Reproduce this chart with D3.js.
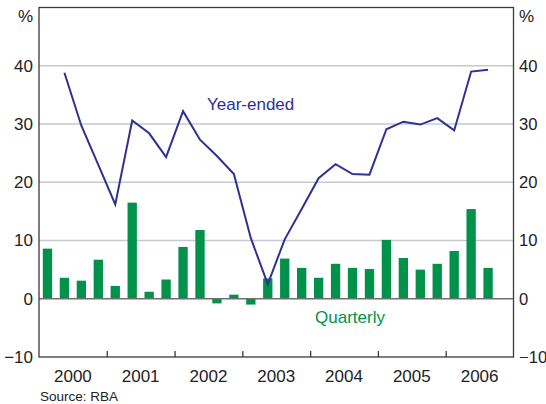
<!DOCTYPE html>
<html><head><meta charset="utf-8">
<script src="https://cdn.jsdelivr.net/npm/d3@7"></script>
<style>
html,body{margin:0;padding:0;background:#fff;}
svg{display:block;font-family:Arial,"Liberation Sans",sans-serif;}
</style></head>
<body><svg id="c" width="546" height="404"></svg>
<script>
// Quarters 2000Q1 .. 2006Q3
const quarters = d3.range(27).map(i => `${2000 + Math.floor(i/4)}Q${i%4+1}`);
const quarterly = [8.6, 3.6, 3.1, 6.7, 2.2, 16.5, 1.2, 3.3, 8.9, 11.8, -0.8, 0.7, -1.0, 3.5, 6.9, 5.3, 3.6, 6.0, 5.3, 5.1, 10.1, 7.0, 5.0, 6.0, 8.2, 15.4, 5.3];
const yearEnded = [null, 38.8, 29.7, 23.0, 16.2, 30.6, 28.4, 24.3, 32.2, 27.3, 24.5, 21.4, 10.4, 2.5, 10.2, 15.4, 20.7, 23.1, 21.4, 21.3, 29.1, 30.4, 29.9, 31.0, 28.9, 39.0, 39.3];
const years = [2000, 2001, 2002, 2003, 2004, 2005, 2006];
const yTicks = [-10, 0, 10, 20, 30, 40];

const svg = d3.select("#c");
const L = 39, R = 513.5, T = 7.5, B = 357;
const x = d3.scaleLinear().domain([2000, 2007]).range([L, R]);
const y = d3.scaleLinear().domain([-10, 50]).range([B, T]);
const qPos = i => 2000 + (i + 0.5) / 4;
const qW = x(2000.25) - x(2000);

// gridlines
svg.append("g").selectAll("line").data([10, 20, 30, 40]).join("line")
  .attr("x1", L).attr("x2", R).attr("y1", d => y(d)).attr("y2", d => y(d))
  .attr("stroke", "#c5c9d1").attr("stroke-width", 1.3);

// bars
svg.append("g").selectAll("rect").data(quarterly).join("rect")
  .attr("x", (d, i) => x(qPos(i)) - qW * 0.275)
  .attr("width", qW * 0.55)
  .attr("y", d => y(Math.max(0, d)))
  .attr("height", d => Math.abs(y(d) - y(0)))
  .attr("fill", "#00924a");

// zero line
svg.append("line").attr("x1", L).attr("x2", R).attr("y1", y(0)).attr("y2", y(0))
  .attr("stroke", "#6f6f6f").attr("stroke-width", 1.6);

// year-ended line
const line = d3.line().defined(d => d != null)
  .x((d, i) => x(qPos(i))).y(d => y(d));
svg.append("path").datum(yearEnded).attr("d", line)
  .attr("fill", "none").attr("stroke", "#2e3192").attr("stroke-width", 2).attr("stroke-linejoin", "miter");

// frame
svg.append("rect").attr("x", L).attr("y", T).attr("width", R - L).attr("height", B - T)
  .attr("fill", "none").attr("stroke", "#3a3a3a").attr("stroke-width", 1.3);

// x axis (ticks at year boundaries pointing inward, labels mid-year)
const xAxis = d3.axisBottom(x).tickValues(d3.range(2001, 2007)).tickSize(-6).tickFormat("");
const gx = svg.append("g").attr("transform", `translate(0,${B})`).call(xAxis);
gx.select(".domain").remove();
gx.selectAll(".tick line").attr("stroke", "#3a3a3a").attr("stroke-width", 1.3);
svg.append("g").selectAll("text").data(years).join("text")
  .attr("x", d => x(d + 0.5)).attr("y", B + 25)
  .attr("text-anchor", "middle").attr("font-size", 17).attr("fill", "#222")
  .text(d => d);

// y axes labels
const yl = d3.axisLeft(y).tickValues(yTicks).tickSize(0).tickPadding(6);
const gl = svg.append("g").attr("transform", `translate(${L},0)`).call(yl);
gl.select(".domain").remove();
gl.selectAll("text").attr("font-size", 17).attr("fill", "#222").attr("font-family", "Arial,'Liberation Sans',sans-serif");
const yr = d3.axisRight(y).tickValues(yTicks).tickSize(0).tickPadding(5.5);
const gr = svg.append("g").attr("transform", `translate(${R},0)`).call(yr);
gr.select(".domain").remove();
gr.selectAll("text").attr("font-size", 16.6).attr("fill", "#222").attr("font-family", "Arial,'Liberation Sans',sans-serif");

svg.append("text").attr("x", 33).attr("y", 22).attr("text-anchor", "end")
  .attr("font-size", 17).attr("fill", "#222").text("%");
svg.append("text").attr("x", 519).attr("y", 22).attr("text-anchor", "start")
  .attr("font-size", 17).attr("fill", "#222").text("%");

// series labels
svg.append("text").attr("x", 207).attr("y", 110).attr("font-size", 17)
  .attr("fill", "#2e3192").text("Year-ended");
svg.append("text").attr("x", 315).attr("y", 323).attr("font-size", 17)
  .attr("fill", "#00924a").text("Quarterly");

// source
svg.append("text").attr("x", 40).attr("y", 401).attr("font-size", 13.5)
  .attr("fill", "#222").text("Source: RBA");
</script></body></html>
